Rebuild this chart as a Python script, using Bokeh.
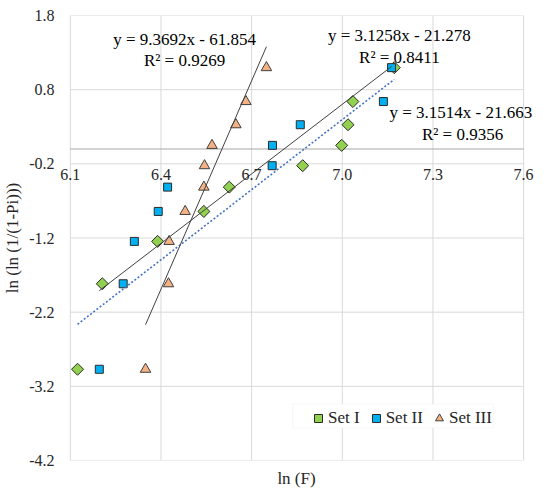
import numpy as np
from bokeh.plotting import figure
from bokeh.models import (Range1d, FixedTicker, LabelSet, ColumnDataSource,
                          Legend, LegendItem, BoxAnnotation)
from bokeh.core.properties import value
from bokeh.embed import file_html
from bokeh.resources import INLINE

# ---- data ----
y_vals = [-2.970, -1.817, -1.246, -0.842, -0.514, -0.225, 0.049, 0.327, 0.640, 1.097]
set1_x = [6.124, 6.206, 6.389, 6.542, 6.626, 6.869, 6.998, 7.019, 7.035, 7.172]
set2_x = [6.196, 6.275, 6.312, 6.391, 6.422, 6.768, 6.769, 6.861, 7.136, 7.163]
set3_x = [6.349, 6.425, 6.427, 6.480, 6.542, 6.544, 6.569, 6.648, 6.681, 6.749]

set_names = ["Set I", "Set II", "Set III"]
slopes = [3.1514, 3.1258, 9.3692]
intercepts = [-21.663, -21.278, -61.854]
r2_vals = [0.9356, 0.8411, 0.9269]

x_ticks = [6.1, 6.4, 6.7, 7.0, 7.3, 7.6]
x_tick_labels = ["6.1", "6.4", "6.7", "7.0", "7.3", "7.6"]
y_ticks = [1.8, 0.8, -0.2, -1.2, -2.2, -3.2, -4.2]
y_tick_labels = ["1.8", "0.8", "-0.2", "-1.2", "-2.2", "-3.2", "-4.2"]

FONT = "Liberation Serif"
TXT = "#262626"
GRID = "#D9D9D9"

x_lo, x_hi = min(x_ticks), max(x_ticks)
y_lo, y_hi = min(y_ticks), max(y_ticks)

# the frame is a little wider than the gridded area so that edge texts are not clipped
p = figure(width=534, height=490, output_backend="svg", toolbar_location=None,
           x_range=Range1d(x_lo - 0.039, x_hi + 0.036), y_range=Range1d(y_lo, y_hi),
           min_border_left=53, min_border_right=0, min_border_top=15, min_border_bottom=26)
p.background_fill_color = "white"
p.border_fill_color = "white"
p.outline_line_color = None
p.xgrid.visible = False
p.ygrid.visible = False

# gridlines limited to the plot area
p.segment(x0=x_ticks, y0=[y_lo] * len(x_ticks), x1=x_ticks, y1=[y_hi] * len(x_ticks),
          line_color=GRID, line_width=1)
p.segment(x0=[x_lo] * len(y_ticks), y0=y_ticks, x1=[x_hi] * len(y_ticks), y1=y_ticks,
          line_color=GRID, line_width=1)
# horizontal axis line crossing at y = 0
p.segment(x0=[x_lo], y0=[0], x1=[x_hi], y1=[0], line_color="#A6A6A6", line_width=1)

# y axis (left)
ya = p.yaxis[0]
ya.ticker = FixedTicker(ticks=y_ticks)
ya.major_label_overrides = {t: l for t, l in zip(y_ticks, y_tick_labels)}
ya.axis_line_color = None
ya.major_tick_line_color = None
ya.minor_tick_line_color = None
ya.major_tick_out = 0
ya.major_tick_in = 0
ya.minor_tick_out = 0
ya.major_label_standoff = 4
ya.major_label_text_font = FONT
ya.major_label_text_font_size = "16px"
ya.major_label_text_color = TXT
ya.axis_label = "ln (ln (1/(1-Pi)))"
ya.axis_label_text_font = FONT
ya.axis_label_text_font_size = "17px"
ya.axis_label_text_font_style = "normal"
ya.axis_label_text_color = TXT
ya.axis_label_standoff = 4

# x axis (bottom) only carries the title
xa = p.xaxis[0]
xa.ticker = FixedTicker(ticks=[])
xa.axis_line_color = None
xa.major_tick_line_color = None
xa.minor_tick_line_color = None
xa.major_tick_out = 0
xa.minor_tick_out = 0
xa.axis_label = "ln (F)"
xa.axis_label_text_font = FONT
xa.axis_label_text_font_size = "17px"
xa.axis_label_text_font_style = "normal"
xa.axis_label_text_color = TXT
xa.axis_label_standoff = 8

# x tick labels next to the crossing axis
tick_src = ColumnDataSource(dict(x=x_ticks, y=[0] * len(x_ticks), t=x_tick_labels))
p.add_layout(LabelSet(x="x", y="y", text="t", source=tick_src, y_offset=-25,
                      text_align="center", text_baseline="middle",
                      text_font=value(FONT), text_font_size="16px", text_color=TXT))

def eq_text(i):
    return f"y = {slopes[i]}x - {abs(intercepts[i])}"

def r2_text(i):
    return f"R\u00b2 = {r2_vals[i]}"

# equation labels under the markers (glyph text)
p.text(x=[6.478, 6.478], y=[1.476, 1.187], text=[eq_text(2), r2_text(2)],
       text_font=value(FONT), text_font_size="17px", text_color="black",
       text_align="center", text_baseline="middle")
p.text(x=[7.189, 7.189], y=[1.533, 1.227], text=[eq_text(1), r2_text(1)],
       text_font=value(FONT), text_font_size="17px", text_color="black",
       text_align="center", text_baseline="middle")
p.text(x=[7.392, 7.398], y=[0.489, 0.200], text=[eq_text(0), r2_text(0)],
       text_font=value(FONT), text_font_size="17px", text_color="black",
       text_align="center", text_baseline="middle")

# markers
r1 = p.scatter(set1_x, y_vals, marker="square", angle=np.pi / 4, size=8.5,
               fill_color="#92D050", line_color="#2b2b2b", line_width=1)
r2 = p.scatter(set2_x, y_vals, marker="square", size=8,
               fill_color="#00B0F0", line_color="#2b2b2b", line_width=1)
r3 = p.scatter(set3_x, y_vals, marker="triangle", size=10.5,
               fill_color="#F4B183", line_color="#404040", line_width=1)

# trendlines over each set's x range
xs_sets = [set1_x, set2_x, set3_x]
for i, xs in enumerate(xs_sets):
    lx = np.array([min(xs), max(xs)])
    ly = slopes[i] * lx + intercepts[i]
    if i == 0:
        p.line(lx, ly, line_color="#4472C4", line_width=1.6, line_dash="2 2")
    else:
        p.line(lx, ly, line_color="#404040", line_width=1)

# legend box + legend
p.add_layout(BoxAnnotation(left=6.836, right=7.5005, bottom=-3.76, top=-3.44,
                           fill_color="white", fill_alpha=1.0,
                           line_color="#E3E3E3", line_width=1, level="annotation"))
legend = Legend(items=[LegendItem(label=set_names[0], renderers=[r1]),
                       LegendItem(label=set_names[1], renderers=[r2]),
                       LegendItem(label=set_names[2], renderers=[r3])],
                orientation="horizontal", location=(250, 32),
                padding=2, spacing=6, glyph_width=20, glyph_height=20,
                label_standoff=0, label_height=20,
                label_text_font=FONT, label_text_font_size="17px", label_text_color=TXT,
                background_fill_alpha=0, border_line_color=None, margin=0)
p.add_layout(legend, "center")

open("out.html", "w").write(file_html(p, INLINE))
